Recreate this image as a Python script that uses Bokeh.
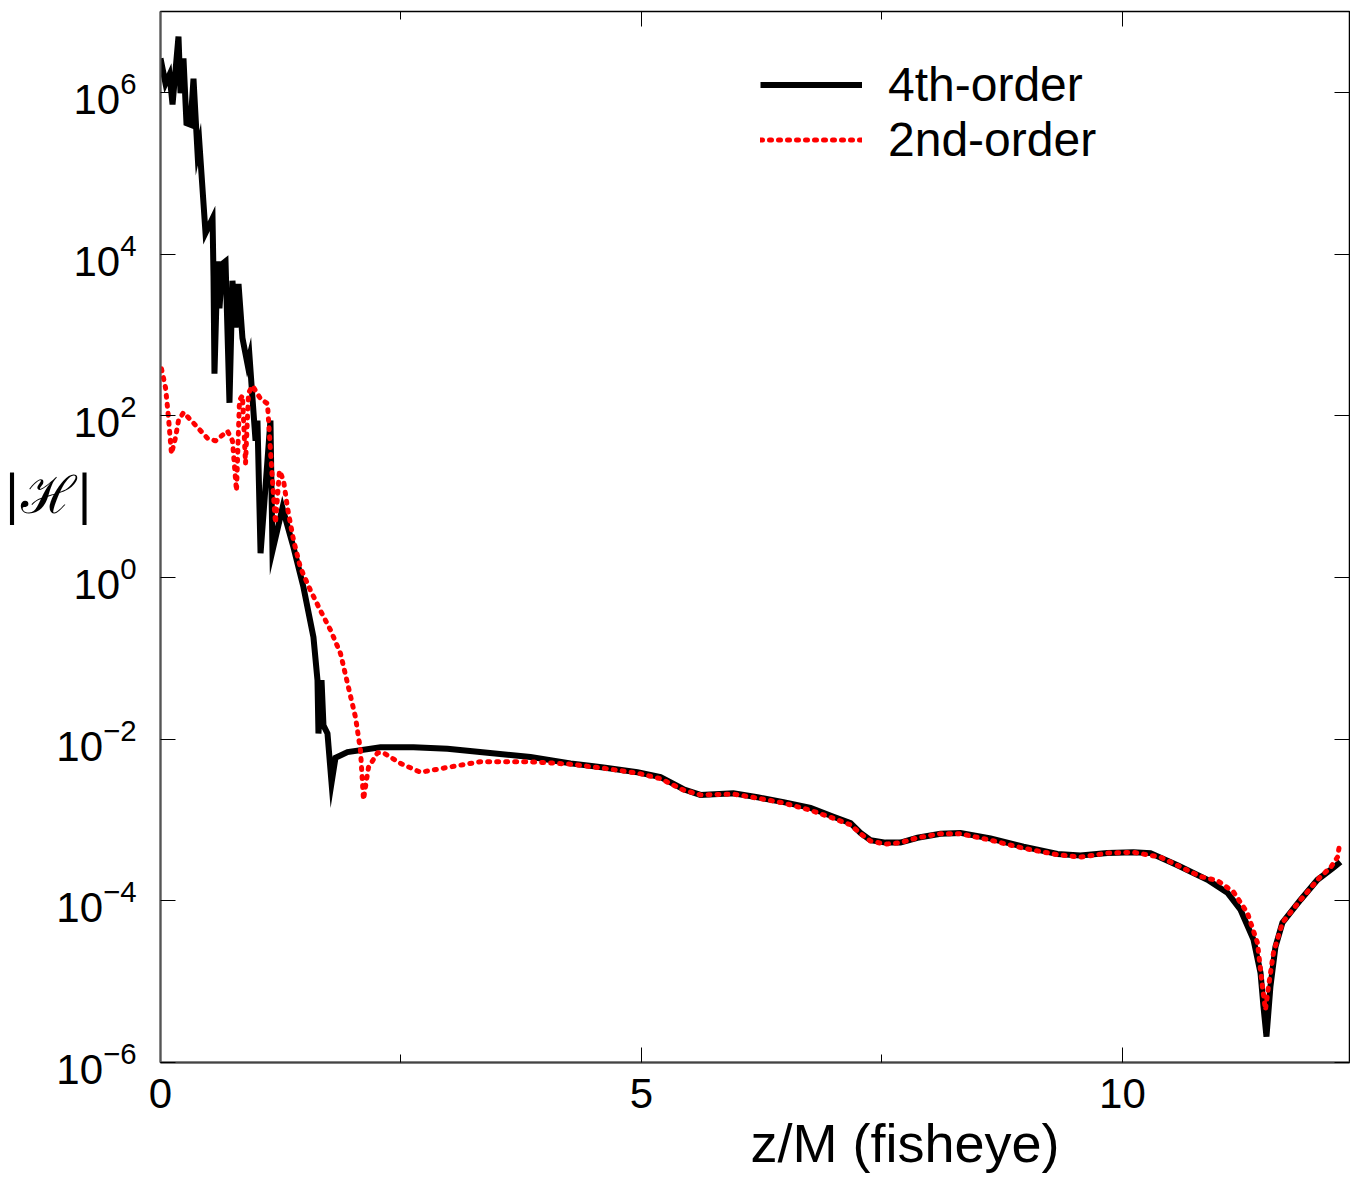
from bokeh.plotting import figure
from bokeh.models import (FixedTicker, LinearAxis, LogAxis, Legend, LegendItem, Title,
                          ColumnDataSource, CustomJSTickFormatter)
from bokeh.embed import file_html
from bokeh.resources import INLINE

# ---- data: x = z/M (fisheye), values = log10 |H| ----
x_4th = [0.000, 0.052, 0.094, 0.125, 0.187, 0.208, 0.239, 0.270, 0.312, 0.343,
         0.385, 0.405, 0.468, 0.541, 0.551, 0.561, 0.593, 0.613, 0.644, 0.676,
         0.717, 0.748, 0.780, 0.811, 0.852, 0.904, 0.925, 0.956, 0.988, 1.008,
         1.040, 1.143, 1.164, 1.268, 1.383, 1.486, 1.590, 1.632, 1.642, 1.674,
         1.694, 1.736, 1.778, 1.819, 1.944, 2.287, 2.630, 2.983, 3.399, 3.846,
         4.262, 4.605, 4.958, 5.198, 5.437, 5.613, 5.956, 6.206, 6.476, 6.757,
         6.996, 7.173, 7.277, 7.380, 7.536, 7.692, 7.869, 8.108, 8.316, 8.628,
         8.971, 9.324, 9.563, 9.844, 10.114, 10.291, 10.572, 10.884, 11.091, 11.227,
         11.362, 11.435, 11.466, 11.497, 11.538, 11.590, 11.663, 11.850, 12.027, 12.193,
         12.266]
log_h_4th = [6.42, 6.11, 6.22, 5.85, 6.69, 5.99, 6.42, 5.62, 5.60, 6.17,
             5.25, 5.36, 4.26, 4.44, 3.73, 2.52, 3.91, 3.33, 3.88, 3.91,
             2.16, 3.67, 3.09, 3.63, 2.96, 2.64, 2.74, 2.22, 1.69, 1.94,
             0.30, 1.94, 0.33, 0.86, 0.37, -0.12, -0.74, -1.27, -1.93, -1.27,
             -1.83, -1.93, -2.54, -2.23, -2.16, -2.10, -2.10, -2.12, -2.17, -2.22,
             -2.30, -2.35, -2.41, -2.47, -2.62, -2.69, -2.67, -2.72, -2.78, -2.85,
             -2.96, -3.04, -3.16, -3.25, -3.28, -3.28, -3.22, -3.17, -3.16, -3.23,
             -3.33, -3.42, -3.44, -3.41, -3.40, -3.41, -3.56, -3.74, -3.90, -4.11,
             -4.48, -4.89, -5.31, -5.68, -5.06, -4.57, -4.27, -3.99, -3.74, -3.59,
             -3.52]

x_2nd = [0.010, 0.052, 0.083, 0.114, 0.156, 0.187, 0.239, 0.343, 0.489, 0.572,
         0.696, 0.748, 0.790, 0.821, 0.852, 0.884, 0.915, 0.956, 1.040, 1.112,
         1.143, 1.164, 1.195, 1.237, 1.279, 1.320, 1.383, 1.455, 1.559, 1.663,
         1.767, 1.871, 1.944, 2.027, 2.079, 2.110, 2.162, 2.256, 2.318, 2.495,
         2.703, 2.983, 3.326, 3.846, 4.262, 4.605, 4.958, 5.198, 5.437, 5.613,
         5.956, 6.206, 6.476, 6.757, 6.996, 7.173, 7.277, 7.380, 7.536, 7.692,
         7.869, 8.108, 8.316, 8.628, 8.971, 9.324, 9.563, 9.844, 10.114, 10.395,
         10.811, 10.988, 11.154, 11.299, 11.403, 11.455, 11.486, 11.518, 11.570, 11.663,
         11.850, 12.058, 12.162, 12.235, 12.256]
log_h_2nd = [2.58, 2.35, 1.98, 1.53, 1.73, 1.94, 2.04, 1.91, 1.72, 1.69,
             1.81, 1.69, 1.07, 2.19, 2.25, 1.41, 2.28, 2.37, 2.21, 2.15,
             1.57, 1.20, 0.67, 1.32, 1.20, 0.86, 0.46, 0.12, -0.16, -0.41,
             -0.65, -0.94, -1.31, -1.73, -2.14, -2.75, -2.35, -2.17, -2.17, -2.30,
             -2.41, -2.35, -2.28, -2.28, -2.31, -2.36, -2.42, -2.49, -2.63, -2.69,
             -2.68, -2.73, -2.79, -2.88, -2.98, -3.06, -3.17, -3.26, -3.30, -3.28,
             -3.22, -3.17, -3.17, -3.25, -3.35, -3.43, -3.46, -3.41, -3.40, -3.46,
             -3.70, -3.75, -3.89, -4.15, -4.52, -5.06, -5.35, -5.06, -4.64, -4.27,
             -3.99, -3.70, -3.59, -3.46, -3.31]

x_major_ticks = [0, 5, 10]
x_minor_ticks = [2.5, 7.5]
y_major_ticks = [1e-6, 1e-4, 1e-2, 1e0, 1e2, 1e4, 1e6]
series_labels = ["4th-order", "2nd-order"]
x_title = "z/M (fisheye)"
y_title = "|ℋ|"

h_4th = [10 ** v for v in log_h_4th]
h_2nd = [10 ** v for v in log_h_2nd]

TICK_FONT = "Liberation Sans"
TEXT_FONT = "Liberation Sans"

p = figure(width=1350, height=1186, output_backend="svg", toolbar_location=None,
           y_axis_type="log", x_range=(0, 12.36), y_range=(1e-6, 1e7),
           min_border_left=160, min_border_right=1, min_border_top=11, min_border_bottom=124)
p.xgrid.visible = False
p.ygrid.visible = False
p.outline_line_color = "black"
p.outline_line_width = 1.5
p.background_fill_color = "white"
p.border_fill_color = "white"

src4 = ColumnDataSource(dict(x=x_4th, y=h_4th))
src2 = ColumnDataSource(dict(x=x_2nd, y=h_2nd))
r4 = p.line("x", "y", source=src4, line_color="black", line_width=6, line_join="miter")
r2 = p.line("x", "y", source=src2, line_color="#ff0000", line_width=5,
            line_dash="2 7", line_cap="round", line_join="round")

# bottom axis
xa = p.xaxis[0]
xa.ticker = FixedTicker(ticks=x_major_ticks, minor_ticks=x_minor_ticks)
xa.major_tick_in = 15
xa.major_tick_out = 0
xa.minor_tick_in = 8
xa.minor_tick_out = 0
xa.major_label_text_font = TICK_FONT
xa.major_label_text_font_size = "42px"
xa.major_label_text_color = "black"
xa.major_label_standoff = 16
xa.axis_line_color = "#444444"
xa.axis_line_width = 2
xa.major_tick_line_color = "black"
xa.minor_tick_line_color = "black"

# left axis
ya = p.yaxis[0]
ya.ticker = FixedTicker(ticks=y_major_ticks, minor_ticks=[])
ya.major_tick_in = 15
ya.major_tick_out = 0
ya.minor_tick_in = 0
ya.minor_tick_out = 0
ya.major_label_text_font = TICK_FONT
ya.major_label_text_font_size = "42px"
ya.major_label_text_color = "black"
ya.major_label_standoff = 24
ya.axis_line_color = "#555555"
ya.axis_line_width = 2
ya.major_tick_line_color = "black"
# the title sits above the frame's middle, as in the reference: a second, empty
# line below it lifts the first line by half a line height
ya.axis_label = y_title + "\n"
ya.axis_label_orientation = "horizontal"
ya.axis_label_text_font = "DejaVu Serif"
ya.axis_label_text_font_style = "normal"
ya.axis_label_text_font_size = "52px"
ya.axis_label_text_color = "black"
ya.axis_label_text_line_height = 1.4
ya.axis_label_standoff = -40

# mirrored tick marks on top and right (no labels)
top = LinearAxis(ticker=FixedTicker(ticks=x_major_ticks, minor_ticks=x_minor_ticks),
                 major_tick_in=15, major_tick_out=0, minor_tick_in=8, minor_tick_out=0,
                 formatter=CustomJSTickFormatter(code="return ''"),
                 major_label_standoff=0, axis_line_alpha=0)
p.add_layout(top, "above")
right = LogAxis(ticker=FixedTicker(ticks=y_major_ticks, minor_ticks=[]),
                major_tick_in=15, major_tick_out=0, minor_tick_in=0, minor_tick_out=0,
                formatter=CustomJSTickFormatter(code="return ''"),
                major_label_standoff=0, axis_line_alpha=0)
p.add_layout(right, "right")

# x-axis title, placed under the axis and shifted right as in the reference
p.add_layout(Title(text=x_title, align="left", offset=590, standoff=0,
                   text_font=TEXT_FONT, text_font_style="normal",
                   text_font_size="54px", text_color="black"), "below")

legend = Legend(items=[LegendItem(label=series_labels[0], renderers=[r4]),
                       LegendItem(label=series_labels[1], renderers=[r2])],
                location=(600, 895), orientation="vertical",
                glyph_width=102, glyph_height=51, label_height=51, spacing=0,
                label_standoff=26, padding=0, margin=0,
                label_text_font=TEXT_FONT, label_text_font_size="48px",
                label_text_color="black",
                border_line_alpha=0, background_fill_alpha=0)
p.add_layout(legend)

open("out.html", "w").write(file_html(p, INLINE))
